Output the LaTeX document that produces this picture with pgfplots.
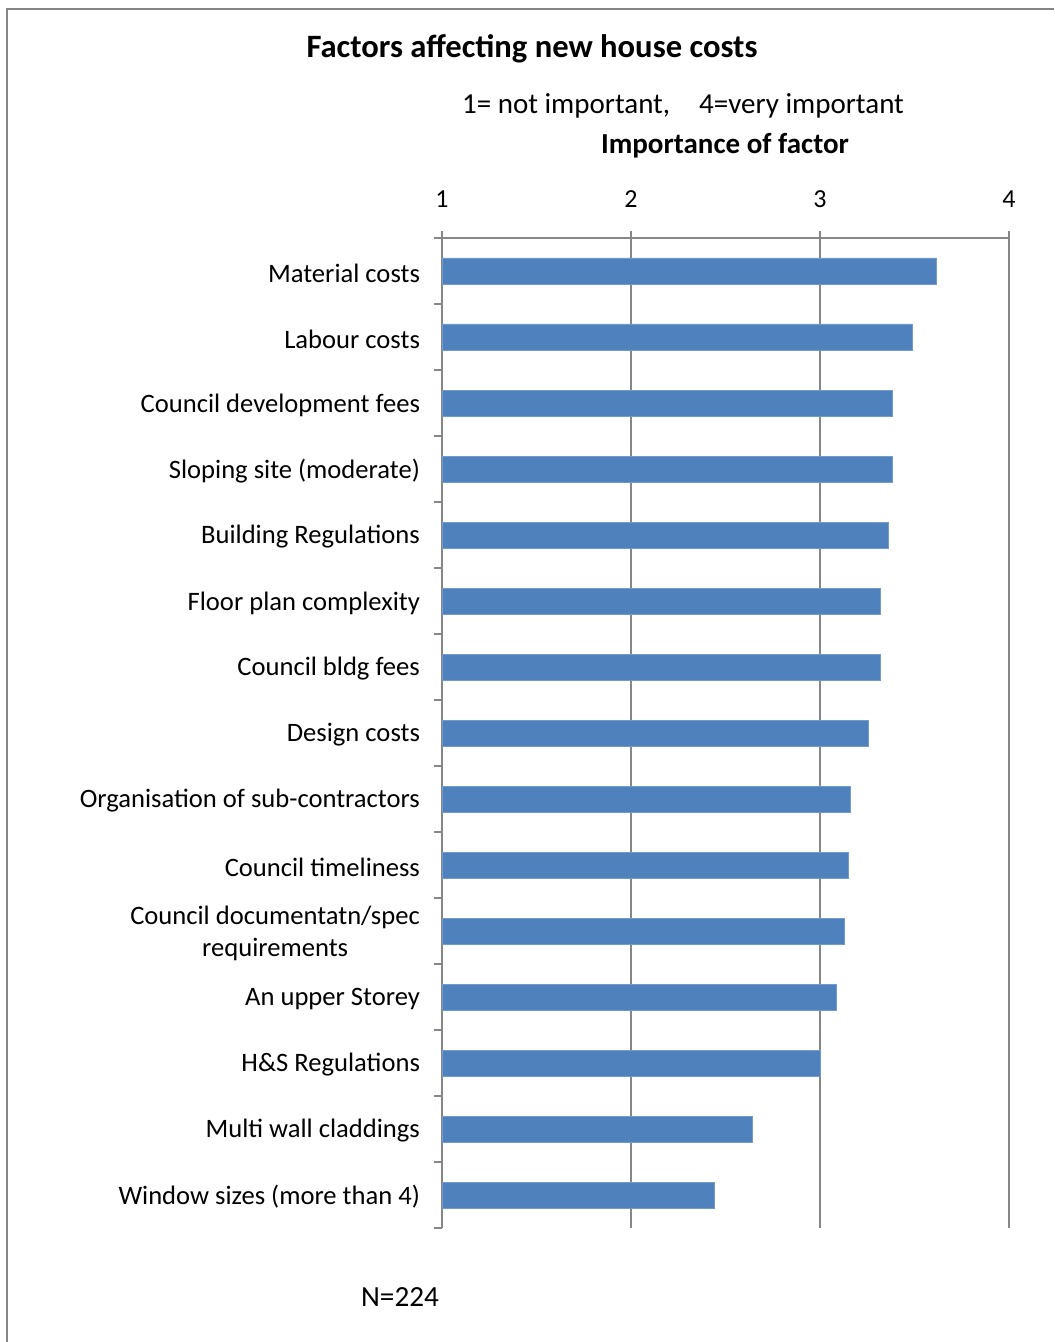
\documentclass[border=0pt]{standalone}
\usepackage{pgfplots}
\pgfplotsset{compat=1.18}
\usepackage{fontspec}
\setmainfont{Carlito}
\definecolor{barblue}{HTML}{4F81BD}
\definecolor{axgray}{HTML}{868686}
\begin{document}
\begin{tikzpicture}[x=0.5pt,y=0.5pt]
\useasboundingbox (0,0) rectangle (1054,1342);
\draw[axgray, line width=1.2pt] (7,0) -- (7,1333) -- (1054,1333);
\node[font=\bfseries\fontsize{16.3}{19}\selectfont] at (532,1293) {Factors affecting new house costs};
\node[font=\fontsize{14.5}{17}\selectfont] at (683,1236) {1= not important,\quad 4=very important};
\node[font=\bfseries\fontsize{14.5}{17}\selectfont] at (725,1196) {Importance of factor};
\node[font=\fontsize{14.6}{17}\selectfont] at (400,45) {N=224};
\begin{axis}[
  at={(221pt,57pt)}, anchor=south west, scale only axis,
  width=283.5pt, height=495pt,
  xbar, bar width=13pt,
  xmin=1, xmax=4, ymin=-0.5, ymax=14.5, y dir=reverse,
  axis x line*=top, axis y line*=left,
  axis line style={axgray, line width=0.8pt, -},
  xtick={1,2,3,4}, xmajorgrids, grid style={axgray, line width=0.8pt},
  ytick={0,...,14},
  yticklabels={Material costs, Labour costs, Council development fees, Sloping site (moderate), Building Regulations, Floor plan complexity, Council bldg fees, Design costs, Organisation of sub-contractors, Council timeliness, {Council documentatn/spec\\requirements}, An upper Storey, H\&S Regulations, Multi wall claddings, Window sizes (more than 4)},
  minor ytick={-0.5,0.5,...,14.5},
  tick align=outside, major tick length=3.5pt, minor tick length=4pt,
  tick style={axgray, line width=0.8pt},
  major y tick style={draw=none},
  /pgf/number format/assume math mode=true,
  tick label style={font=\fontsize{13}{16}\selectfont},
  yticklabel style={align=center, xshift=-4pt, yshift=-1pt, font=\fontsize{13.3}{16}\selectfont},
  xticklabel style={yshift=8pt},
]
\addplot[fill=barblue, draw=barblue!80!white, line width=0.4pt] coordinates {
(3.614,0) (3.487,1) (3.381,2) (3.381,3) (3.360,4) (3.317,5) (3.317,6) (3.254,7)
(3.159,8) (3.148,9) (3.127,10) (3.085,11) (3.000,12) (2.640,13) (2.439,14)};
\end{axis}
\end{tikzpicture}
\end{document}
